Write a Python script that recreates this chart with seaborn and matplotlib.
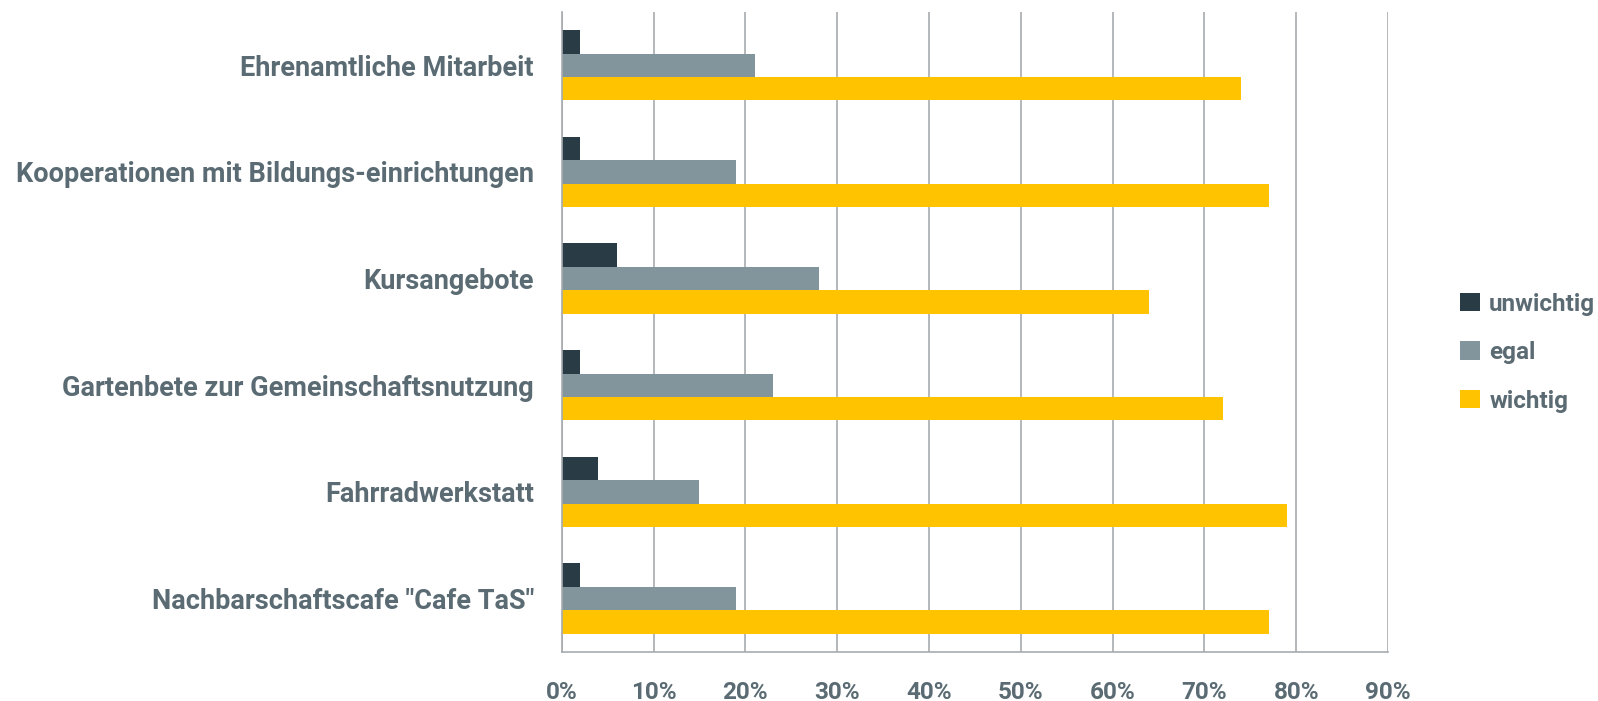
import seaborn as sns
import pandas as pd
import matplotlib.pyplot as plt
from matplotlib.ticker import FuncFormatter

categories = ["Ehrenamtliche Mitarbeit",
              "Kooperationen mit Bildungs-einrichtungen",
              "Kursangebote",
              "Gartenbete zur Gemeinschaftsnutzung",
              "Fahrradwerkstatt",
              'Nachbarschaftscafe "Cafe TaS"']
unwichtig = [2, 2, 6, 2, 4, 2]
egal = [21, 19, 28, 23, 15, 19]
wichtig = [74, 77, 64, 72, 79, 77]
series = ["unwichtig", "egal", "wichtig"]
colors = ["#293c46", "#83959c", "#ffc300"]
x_ticks = [0, 10, 20, 30, 40, 50, 60, 70, 80, 90]

df = pd.DataFrame({
    "Kategorie": categories * 3,
    "Antwort": ["unwichtig"] * 6 + ["egal"] * 6 + ["wichtig"] * 6,
    "Anteil": unwichtig + egal + wichtig,
})

sns.set_style("white")
plt.rcParams["font.family"] = ["Roboto", "DejaVu Sans"]
text_col = "#5b6b73"
grid_col = "#a7abaf"

fig = plt.figure(figsize=(15.98, 7.01), dpi=100)
ax = fig.add_axes([0.3515, 0.070, 0.5171, 0.913])

sns.barplot(data=df, y="Kategorie", x="Anteil", hue="Antwort",
            hue_order=series, palette=colors, order=categories,
            width=0.66, linewidth=0, saturation=1, ax=ax, orient="h")

ax.set_xlim(0, 90)
ax.set_ylim(5.5, -0.5)
ax.set_xticks(x_ticks)
ax.xaxis.set_major_formatter(FuncFormatter(lambda v, p: "%d%%" % v))
ax.grid(axis="x", color=grid_col, linewidth=1.2)
ax.set_axisbelow(True)
ax.set_xlabel("")
ax.set_ylabel("")
for s in ["top", "right"]:
    ax.spines[s].set_visible(False)
for s in ["left", "bottom"]:
    ax.spines[s].set_color(grid_col)
    ax.spines[s].set_linewidth(1.2)
ax.tick_params(axis="y", length=0, pad=20, labelsize=19.5, labelcolor=text_col)
ax.tick_params(axis="x", length=0, pad=21, labelsize=17.5, labelcolor=text_col)
for lab in ax.get_yticklabels() + ax.get_xticklabels():
    lab.set_fontweight("bold")

leg = ax.legend(loc="center left", bbox_to_anchor=(0.900, 0.497),
                bbox_transform=fig.transFigure, frameon=False,
                handlelength=0.8, handleheight=0.8, handletextpad=0.4,
                labelspacing=1.05, prop={"size": 17.5, "weight": "bold"})
for t in leg.get_texts():
    t.set_color(text_col)

fig.savefig("out.png", dpi=100)
